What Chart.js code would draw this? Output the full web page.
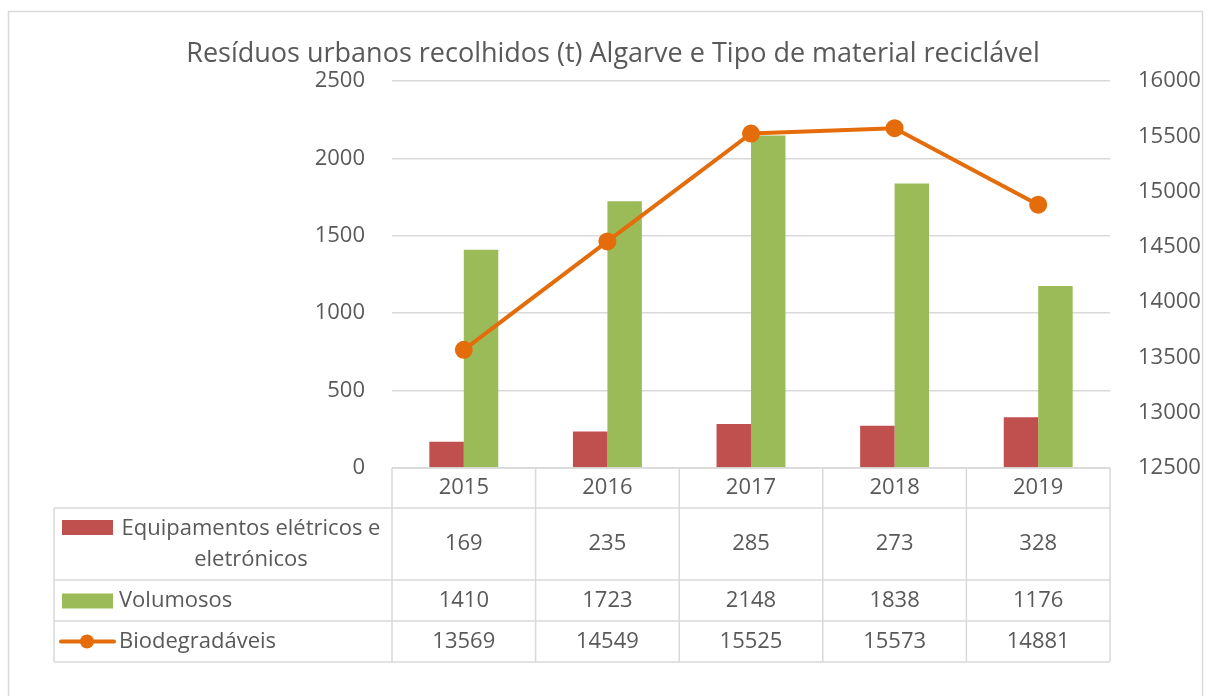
<!DOCTYPE html>
<html>
<head>
<meta charset="utf-8">
<script src="https://cdn.jsdelivr.net/npm/chart.js@4"></script>
<style>
  body { margin: 0; background: #fff; }
  #wrap { width: 1214px; height: 696px; position: relative; }
</style>
</head>
<body>
<div id="wrap"><canvas id="grafico" width="1214" height="696"></canvas></div>
<script>
const anos = ['2015', '2016', '2017', '2018', '2019'];
const equipamentos = [169, 235, 285, 273, 328];
const volumosos = [1410, 1723, 2148, 1838, 1176];
const biodegradaveis = [13569, 14549, 15525, 15573, 14881];

const ticksEsquerda = [0, 500, 1000, 1500, 2000, 2500];
const ticksDireita = [12500, 13000, 13500, 14000, 14500, 15000, 15500, 16000];

const titulo = 'Resíduos urbanos recolhidos (t) Algarve e Tipo de material reciclável';
const nomes = [['Equipamentos elétricos e', 'eletrónicos'], ['Volumosos'], ['Biodegradáveis']];

const vermelho = '#C0504D';
const verde = '#9BBB59';
const laranja = '#E46C0A';
const cinza = '#595959';
const linhaTabela = '#D9D9D9';
const fonte = '"Open Sans", "Noto Sans", sans-serif';
const tamanho = 22;

// moldura, titulo e tabela de dados desenhados por cima
const tabelaPlugin = {
    id: 'tabela',
    afterDraw(chart) {
        const ctx = chart.ctx;
        const area = chart.chartArea;
        const x = chart.scales.x;
        const larg = (area.right - area.left) / anos.length;
        const esq = 54;
        const linhas = [area.bottom, 508, 580, 621, 662];

        ctx.save();
        // moldura
        ctx.strokeStyle = '#D9D9D9';
        ctx.lineWidth = 1.5;
        ctx.beginPath();
        ctx.moveTo(8.5, 700);
        ctx.lineTo(8.5, 11.5);
        ctx.lineTo(1202.5, 11.5);
        ctx.lineTo(1202.5, 700);
        ctx.stroke();

        // titulo
        ctx.fillStyle = cinza;
        ctx.font = '27px ' + fonte;
        ctx.textAlign = 'center';
        ctx.textBaseline = 'middle';
        ctx.fillText(titulo, 613, 54);

        // grelha da tabela
        ctx.strokeStyle = linhaTabela;
        ctx.lineWidth = 1.5;
        ctx.beginPath();
        ctx.moveTo(area.left, linhas[0]);
        ctx.lineTo(area.right, linhas[0]);
        for (let i = 1; i < linhas.length; i++) {
            ctx.moveTo(esq, linhas[i]);
            ctx.lineTo(area.right, linhas[i]);
        }
        for (let i = 0; i <= anos.length; i++) {
            const xx = area.left + i * larg;
            ctx.moveTo(xx, linhas[0]);
            ctx.lineTo(xx, linhas[4]);
        }
        ctx.moveTo(esq, linhas[1]);
        ctx.lineTo(esq, linhas[4]);
        ctx.stroke();

        ctx.font = tamanho + 'px ' + fonte;
        ctx.fillStyle = cinza;
        ctx.textAlign = 'center';
        const series = [equipamentos, volumosos, biodegradaveis];
        anos.forEach((ano, i) => {
            const cx = x.getPixelForValue(i);
            ctx.fillText(ano, cx, (linhas[0] + linhas[1]) / 2);
            series.forEach((s, j) => {
                ctx.fillText(String(s[i]), cx, (linhas[j + 1] + linhas[j + 2]) / 2);
            });
        });

        // legendas
        const cores = [vermelho, verde];
        nomes.forEach((nome, j) => {
            const cy = (linhas[j + 1] + linhas[j + 2]) / 2;
            ctx.fillStyle = cinza;
            if (nome.length === 2) {
                ctx.textAlign = 'center';
                ctx.fillText(nome[0], 251, cy - 15);
                ctx.fillText(nome[1], 251, cy + 16);
                ctx.fillStyle = cores[j];
                ctx.fillRect(62, cy - 24, 51, 15);
            } else {
                ctx.textAlign = 'left';
                ctx.fillText(nome[0], 119, cy);
                if (j < 2) {
                    ctx.fillStyle = cores[j];
                    ctx.fillRect(62, cy - 7, 51, 15);
                } else {
                    ctx.strokeStyle = laranja;
                    ctx.lineWidth = 4;
                    ctx.lineCap = 'round';
                    ctx.beginPath();
                    ctx.moveTo(61, cy);
                    ctx.lineTo(114, cy);
                    ctx.stroke();
                    ctx.fillStyle = laranja;
                    ctx.beginPath();
                    ctx.arc(87, cy, 7, 0, Math.PI * 2);
                    ctx.fill();
                }
            }
        });
        ctx.restore();
    }
};

const ctx = document.getElementById('grafico').getContext('2d');
new Chart(ctx, {
    data: {
        labels: anos,
        datasets: [
            {
                type: 'line',
                label: 'Biodegradáveis',
                data: biodegradaveis,
                yAxisID: 'y1',
                borderColor: laranja,
                backgroundColor: laranja,
                borderWidth: 4,
                pointRadius: 7,
                pointHoverRadius: 7,
                tension: 0,
                order: 0
            },
            {
                type: 'bar',
                label: 'Equipamentos elétricos e eletrónicos',
                data: equipamentos,
                yAxisID: 'y',
                backgroundColor: vermelho,
                order: 1
            },
            {
                type: 'bar',
                label: 'Volumosos',
                data: volumosos,
                yAxisID: 'y',
                backgroundColor: verde,
                order: 1
            }
        ]
    },
    options: {
        responsive: false,
        animation: false,
        layout: { padding: { top: 81, bottom: 228, left: 0, right: 0 } },
        datasets: {
            bar: { categoryPercentage: 0.48, barPercentage: 1 }
        },
        plugins: {
            legend: { display: false },
            title: { display: false },
            tooltip: { enabled: false }
        },
        scales: {
            x: { display: false },
            y: {
                position: 'left',
                min: 0,
                max: 2500,
                afterFit: (s) => { s.width = 392; },
                afterBuildTicks: (s) => { s.ticks = ticksEsquerda.map(v => ({ value: v })); },
                border: { display: false },
                grid: { color: linhaTabela, lineWidth: 1.5, drawTicks: false },
                ticks: { color: cinza, font: { size: tamanho, family: fonte }, padding: 27, callback: (v) => String(v) }
            },
            y1: {
                position: 'right',
                min: 12500,
                max: 16000,
                afterFit: (s) => { s.width = 104; },
                afterBuildTicks: (s) => { s.ticks = ticksDireita.map(v => ({ value: v })); },
                border: { display: false },
                grid: { display: false, drawTicks: false },
                ticks: { color: cinza, font: { size: tamanho, family: fonte }, padding: 28, callback: (v) => String(v) }
            }
        }
    },
    plugins: [tabelaPlugin]
});
</script>
</body>
</html>
